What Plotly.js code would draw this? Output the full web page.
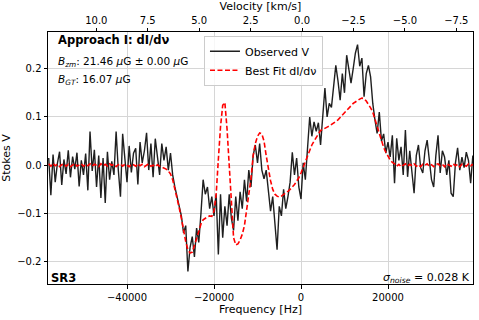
<!DOCTYPE html>
<html>
<head>
<meta charset="utf-8">
<script src="https://cdn.plot.ly/plotly-3.0.1.min.js"></script>
<style>
  html, body { margin: 0; padding: 0; background: #fff; }
  #chart { width: 479px; height: 320px; }
</style>
</head>
<body>
<div id="chart"></div>
<script>
// Channel grid (Hz): first channel and channel width
const FREQ_START = -58000;
const CHAN_WIDTH = 500;

// Observed Stokes V, one value per channel
const observedV = [
    0.015, -0.062, 0.022, -0.035, 0.004, 0.028, -0.041, 0.012, -0.018, 0.031,
    -0.025, 0.018, -0.008, 0.026, -0.044, 0.01, -0.02, 0.024, -0.052, 0.07,
    -0.012, 0.032, -0.045, 0.02, -0.068, 0.015, -0.078, 0.028, -0.03, 0.008,
    -0.02, 0.07, -0.01, -0.065, 0.065, 0.012, -0.035, 0.04, -0.015, 0.025,
    0.035, -0.04, 0.048, 0.005, 0.03, 0.067, -0.01, 0.045, -0.025, 0.055,
    0.02, -0.02, 0.045, 0.01, 0.038, -0.01, 0.025, -0.02, -0.045, -0.065,
    -0.085, -0.105, -0.14, -0.125, -0.22, -0.17, -0.148, -0.19, -0.13, -0.16,
    -0.1, -0.03, -0.06, -0.045, -0.09, -0.065, -0.105, -0.06, -0.185, -0.06,
    -0.15, -0.085, -0.125, -0.06, -0.11, -0.135, -0.065, -0.115, -0.055, -0.09,
    -0.03, -0.075, -0.01, -0.045, 0.02, 0.042, 0.005, 0.045, -0.01, -0.028,
    -0.01, -0.055, -0.095, -0.065, -0.125, -0.175, -0.085, -0.105, -0.05, -0.09,
    -0.065, -0.035, 0.027, -0.02, 0.015, -0.045, -0.07, 0.005, -0.03, 0.035,
    0.1, 0.06, 0.09, 0.07, 0.088, 0.042, 0.112, 0.16, 0.1, 0.128,
    0.12, 0.165, 0.207, 0.175, 0.135, 0.19, 0.15, 0.228, 0.195, 0.17,
    0.2, 0.232, 0.25, 0.205, 0.222, 0.142, 0.19, 0.207, 0.183, 0.128,
    0.094, 0.066, 0.11, 0.05, 0.065, 0.025, 0.048, 0.017, 0.062, -0.037,
    0.056, 0.01, 0.038, -0.02, 0.073, -0.024, 0.03, -0.01, -0.058, 0.02,
    0.042, -0.005, -0.016, 0.03, 0.052, 0.011, -0.03, -0.045, 0.02, 0.062,
    -0.016, 0.03, 0.017, -0.02, 0.01, -0.058, -0.065, 0.005, 0.036, -0.01,
    0.017, -0.005, 0.027, 0.01, -0.037, 0.02
];

// Best fit dI/dnu, same channels
const fitV = [
    0.003, -0.002, 0.004, -0.001, 0.002, -0.003, 0.001, 0.003, -0.002, 0.002,
    -0.003, 0.001, 0.004, -0.002, 0.0, 0.003, -0.002, 0.002, -0.001, 0.003,
    -0.002, 0.002, 0.0, -0.003, 0.003, -0.001, 0.002, -0.002, 0.003, 0.0,
    0.002, -0.003, 0.001, 0.003, -0.002, 0.002, 0.0, -0.003, 0.002, 0.001,
    -0.002, 0.003, -0.001, 0.002, -0.003, 0.001, 0.003, -0.002, 0.0, -0.003,
    0.001, -0.002, -0.004, -0.006, -0.008, -0.012, -0.018, -0.03, -0.048, -0.068,
    -0.088, -0.11, -0.135, -0.158, -0.175, -0.182, -0.18, -0.168, -0.152, -0.138,
    -0.122, -0.113, -0.109, -0.107, -0.105, -0.106, -0.095, -0.06, 0.012, 0.08,
    0.124, 0.13, 0.075, 0.0, -0.09, -0.15, -0.165, -0.163, -0.155, -0.143,
    -0.125, -0.095, -0.065, -0.028, 0.02, 0.045, 0.06, 0.067, 0.065, 0.05,
    0.02, -0.01, -0.032, -0.05, -0.06, -0.064, -0.066, -0.064, -0.061, -0.058,
    -0.054, -0.05, -0.046, -0.04, -0.033, -0.026, -0.016, -0.004, 0.01, 0.022,
    0.033, 0.042, 0.05, 0.058, 0.066, 0.072, 0.074, 0.077, 0.079, 0.081,
    0.084, 0.087, 0.09, 0.094, 0.099, 0.104, 0.109, 0.114, 0.119, 0.124,
    0.128, 0.131, 0.135, 0.137, 0.139, 0.138, 0.133, 0.127, 0.119, 0.11,
    0.095, 0.078, 0.062, 0.048, 0.037, 0.027, 0.018, 0.011, 0.006, 0.003,
    -0.002, 0.002, -0.003, 0.001, 0.003, -0.002, 0.002, -0.001, 0.003, -0.002,
    0.001, -0.003, 0.002, 0.0, 0.003, -0.002, 0.001, -0.003, 0.002, 0.003,
    -0.001, 0.002, -0.003, 0.003, 0.0, -0.002, 0.003, -0.001, 0.002, -0.003,
    0.002, 0.0, -0.002, 0.003, -0.001, 0.002
];

// Axis ticks
const freqTicks = [-40000, -20000, 0, 20000];
const stokesTicks = [-0.2, -0.1, 0.0, 0.1, 0.2];
const velTicks = [10, 7.5, 5, 2.5, 0, -2.5, -5, -7.5];
const velTickText = ['10.0', '7.5', '5.0', '2.5', '0.0', '\u22122.5', '\u22125.0', '\u22127.5'];

const freq = observedV.map((_, i) => FREQ_START + i * CHAN_WIDTH);

const FONT = 'DejaVu Sans, sans-serif';

const traces = [
    {
        x: freq,
        y: observedV,
        type: 'scatter',
        mode: 'lines',
        name: 'Observed V',
        line: { color: 'rgba(0,0,0,0.88)', width: 1.4 }
    },
    {
        x: freq,
        y: fitV,
        type: 'scatter',
        mode: 'lines',
        name: 'Best Fit dI/d\u03bd',
        line: { color: '#ff0000', width: 1.6, dash: '5px,2.5px' }
    },
    {
        // empty trace so the top velocity axis gets drawn
        x: velTicks,
        y: velTicks.map(() => null),
        xaxis: 'x2',
        type: 'scatter',
        mode: 'lines',
        showlegend: false,
        hoverinfo: 'skip'
    }
];

const layout = {
    width: 479,
    height: 320,
    margin: { l: 48, r: 6, t: 32, b: 36 },
    paper_bgcolor: '#fff',
    plot_bgcolor: '#fff',
    font: { family: FONT, size: 10, color: '#000' },
    showlegend: true,
    legend: {
        x: 0.367, y: 0.985, xanchor: 'left', yanchor: 'top',
        bgcolor: 'rgba(255,255,255,0.8)',
        bordercolor: '#cccccc', borderwidth: 1,
        font: { family: FONT, size: 11 },
        itemwidth: 30,
        tracegroupgap: 0
    },
    xaxis: {
        range: [-58160, 39540],
        tickvals: freqTicks,
        tickformat: 'd',
        ticks: 'outside', ticklen: 3.5, tickcolor: '#000',
        showline: true, linecolor: '#000', linewidth: 1, mirror: true,
        showgrid: true, gridcolor: '#d6d6d6', gridwidth: 1,
        zeroline: false,
        tickfont: { size: 10 },
        title: { text: 'Frequency [Hz]', font: { size: 11 }, standoff: 3 }
    },
    xaxis2: {
        overlaying: 'x',
        side: 'top',
        anchor: 'y',
        range: [12.35, -8.31],
        tickvals: velTicks,
        ticktext: velTickText,
        ticks: 'outside', ticklen: 3.5, tickcolor: '#000',
        showline: true, linecolor: '#000', linewidth: 1,
        showgrid: false, zeroline: false,
        tickfont: { size: 10 },
        title: { text: 'Velocity [km/s]', font: { size: 11 }, standoff: 2 }
    },
    yaxis: {
        range: [-0.246, 0.276],
        tickvals: stokesTicks,
        tickformat: '.1f',
        ticks: 'outside', ticklen: 3.5, tickcolor: '#000',
        showline: true, linecolor: '#000', linewidth: 1, mirror: true,
        showgrid: true, gridcolor: '#d6d6d6', gridwidth: 1,
        zeroline: false,
        tickfont: { size: 10 },
        title: { text: 'Stokes V', font: { size: 11 }, standoff: 4 }
    },
    annotations: [
        {
            xref: 'paper', yref: 'paper', x: 0.019, y: 0.968,
            xanchor: 'left', yanchor: 'middle', showarrow: false,
            text: '<b>Approach I: dI/d\u03bd</b>', font: { size: 11.5 }
        },
        {
            xref: 'paper', yref: 'paper', x: 0.019, y: 0.88,
            xanchor: 'left', yanchor: 'middle', showarrow: false,
            text: '<i>B</i><sub><i>zm</i></sub>: 21.46 <i>\u03bc</i>G \u00b1 0.00 <i>\u03bc</i>G',
            font: { size: 10.5 }
        },
        {
            xref: 'paper', yref: 'paper', x: 0.019, y: 0.81,
            xanchor: 'left', yanchor: 'middle', showarrow: false,
            text: '<i>B</i><sub><i>GT</i></sub>: 16.07 <i>\u03bc</i>G',
            font: { size: 10.5 }
        },
        {
            xref: 'paper', yref: 'paper', x: 0.002, y: 0.024,
            xanchor: 'left', yanchor: 'middle', showarrow: false,
            text: '<b>SR3</b>', font: { size: 11.5 }
        },
        {
            xref: 'paper', yref: 'paper', x: 0.998, y: 0.024,
            xanchor: 'right', yanchor: 'middle', showarrow: false,
            text: '<i>\u03c3</i><sub><i>noise</i></sub> = 0.028 K', font: { size: 11 }
        }
    ]
};

Plotly.newPlot('chart', traces, layout, { staticPlot: true, displayModeBar: false });
</script>
</body>
</html>
